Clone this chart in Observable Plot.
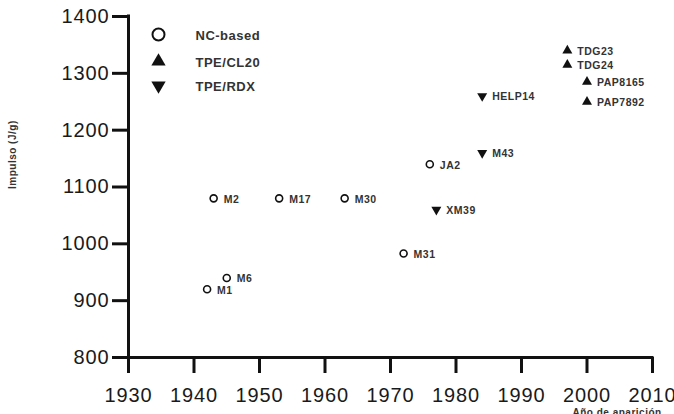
<!DOCTYPE html>
<html><head><meta charset="utf-8">
<script src="https://cdn.jsdelivr.net/npm/d3@7"></script>
<script src="https://cdn.jsdelivr.net/npm/@observablehq/plot@0.6"></script>
<style>
body{margin:0;background:#fff;}
#chart svg{display:block;}
#chart g[aria-label="x-axis tick label"] text,
#chart g[aria-label="y-axis tick label"] text{letter-spacing:0.9px;}
#chart g[aria-label="x-axis tick"] path,
#chart g[aria-label="y-axis tick"] path,
#chart g[aria-label="rule"] line{stroke-width:3px;}
#chart g[aria-label="text"] text{letter-spacing:0.5px;}
</style>
</head><body><div id="chart"></div>
<script>
const names   = ["M1","M6","M2","M17","M30","M31","JA2","XM39","HELP14","M43","TDG23","TDG24","PAP8165","PAP7892"];
const years   = [1942,1945,1943,1953,1963,1972,1976,1977,1984,1984,1997,1997,2000,2000];
const impulse = [920,940,1080,1080,1080,983,1140,1060,1260,1160,1340,1315,1285,1250];
const groups  = ["NC-based","NC-based","NC-based","NC-based","NC-based","NC-based","NC-based",
                 "TPE/RDX","TPE/RDX","TPE/RDX","TPE/CL20","TPE/CL20","TPE/CL20","TPE/CL20"];
const legendLabels = ["NC-based","TPE/CL20","TPE/RDX"];
const xTicks = [1930,1940,1950,1960,1970,1980,1990,2000,2010];
const yTicks = [800,900,1000,1100,1200,1300,1400];
const yTitle = "Impulso (J/g)";
const xTitle = "Año de aparición";

const data = names.map((n,i)=>({name:n, year:years[i], imp:impulse[i], group:groups[i]}));
const font = "Liberation Sans, Arial, Helvetica, sans-serif";
const ink = "#111";

const legendRowY = [18, 45, 69];
const legendMarks = legendLabels.flatMap((lab,i)=>[
  Plot.dot([lab], {frameAnchor:"top-left", dx:30, dy:legendRowY[i],
    symbol: i===0 ? "circle" : "triangle", rotate: i===2 ? 180 : 0,
    r: i===0 ? 6 : 5.3, stroke: ink, strokeWidth: i===0 ? 2 : 0,
    fill: i===0 ? "white" : ink}),
  Plot.text([lab], {frameAnchor:"top-left", dx:67, dy:legendRowY[i]+1, text:d=>d,
    textAnchor:"start", lineAnchor:"middle", fontSize:13, fontWeight:"bold", fill:"#333"})
]);

const plot = Plot.plot({
  width: 674, height: 414,
  marginLeft: 128, marginRight: 22, marginTop: 16, marginBottom: 57,
  style: {fontFamily: font, background: "white", overflow: "hidden"},
  x: {domain: [1930, 2010]},
  y: {domain: [800, 1400]},
  marks: [
    Plot.axisY(yTicks, {tickSize: 16, strokeWidth: 3, stroke: ink, tickPadding: 3,
      fontSize: 20, fill: "#1a1a1a", label: null, tickFormat: d => String(d)}),
    Plot.axisX(xTicks, {tickSize: 16, strokeWidth: 3, stroke: ink, tickPadding: 14,
      fontSize: 20, fill: "#1a1a1a", label: null, tickFormat: d => String(d)}),
    Plot.ruleX([1930], {y1: 800, y2: 1400, strokeWidth: 3, stroke: ink, strokeLinecap: "square"}),
    Plot.ruleY([800], {x1: 1930, x2: 2010, strokeWidth: 3, stroke: ink, strokeLinecap: "square"}),
    Plot.text([yTitle], {frameAnchor:"left", dx:-116, dy:2, rotate:-90, text:d=>d,
      fontSize:10, fill:"#333", fontWeight:"bold"}),
    Plot.text([xTitle], {frameAnchor:"bottom-left", dx:444, dy:51, text:d=>d,
      textAnchor:"start", lineAnchor:"top", fontSize:10, fill:"#333", fontWeight:"bold"}),
    Plot.dot(data.filter(d=>d.group==="NC-based"), {x:"year", y:"imp", symbol:"circle",
      r:3.5, stroke:ink, strokeWidth:1.6, fill:"white"}),
    Plot.dot(data.filter(d=>d.group==="TPE/CL20"), {x:"year", y:"imp", symbol:"triangle",
      r:3.7, fill:ink, stroke:"none"}),
    Plot.dot(data.filter(d=>d.group==="TPE/RDX"), {x:"year", y:"imp", symbol:"triangle",
      rotate:180, r:3.7, fill:ink, stroke:"none"}),
    Plot.text(data, {x:"year", y:"imp", text:"name", dx:10, dy:1, textAnchor:"start",
      fontSize:10.5, fontWeight:"bold", fill:"#333"}),
    ...legendMarks
  ]
});
document.getElementById("chart").appendChild(plot);
</script>
</body></html>
